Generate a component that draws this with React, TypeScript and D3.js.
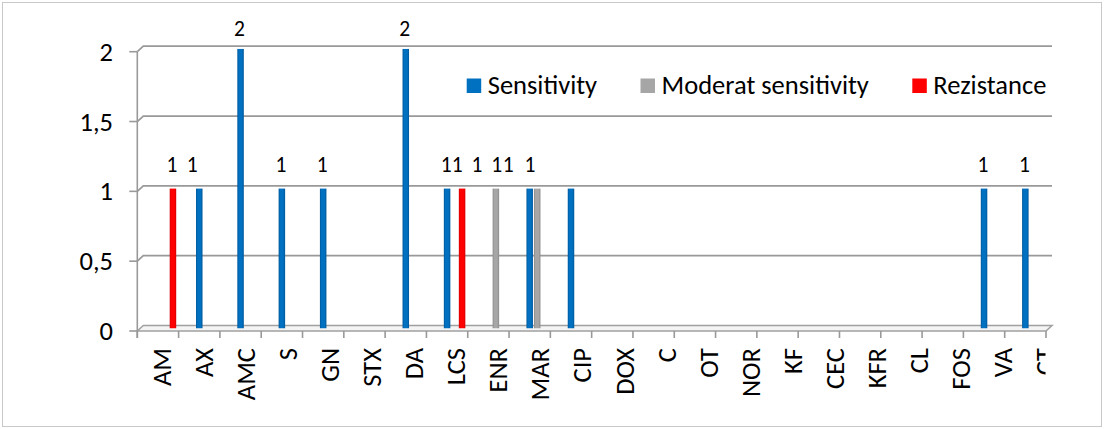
import React from "react";
import * as d3 from "d3";

// Antibiotic panel, one column per agent
const categories = [
  "AM", "AX", "AMC", "S", "GN", "STX", "DA", "LCS", "ENR", "MAR", "CIP",
  "DOX", "C", "OT", "NOR", "KF", "CEC", "KFR", "CL", "FOS", "VA", "CT",
];

const sensitivity = [0, 1, 2, 1, 1, 0, 2, 1, 0, 1, 1, 0, 0, 0, 0, 0, 0, 0, 0, 0, 1, 1];
const moderate = [0, 0, 0, 0, 0, 0, 0, 0, 1, 1, 0, 0, 0, 0, 0, 0, 0, 0, 0, 0, 0, 0];
const resistance = [1, 0, 0, 0, 0, 0, 0, 1, 0, 0, 0, 0, 0, 0, 0, 0, 0, 0, 0, 0, 0, 0];

const seriesNames = ["Sensitivity", "Moderat sensitivity", "Rezistance"];
const yTicks = [0, 0.5, 1, 1.5, 2];

const seriesValues: Record<string, number[]> = {
  Sensitivity: sensitivity,
  "Moderat sensitivity": moderate,
  Rezistance: resistance,
};

const colors: Record<string, { base: string; dark: string }> = {
  Sensitivity: { base: "#0070C0", dark: "#00579a" },
  "Moderat sensitivity": { base: "#A6A6A6", dark: "#8a8a8a" },
  Rezistance: { base: "#FF0000", dark: "#d40000" },
};

// hand-placed value labels that were dragged sideways in the workbook
const labelNudge: Record<string, number> = {
  "AX|Sensitivity": -6,
  "LCS|Rezistance": -4,
  "ENR|Moderat sensitivity": -18,
  "MAR|Sensitivity": -32,
  "MAR|Moderat sensitivity": -28,
  "CIP|Sensitivity": -40,
};

const W = 1104;
const H = 429;
const FONT = "Carlito, Lato, 'Open Sans', sans-serif";
const TEXT_SIZE = 26.5;
const LABEL_SIZE = 21.5;

// 3D offsets: back wall sits up and to the right of the front axis
const DEPTH_X = 6;
const DEPTH_Y = 5.5;

const commaFormat = d3.formatLocale({
  decimal: ",",
  thousands: ".",
  grouping: [3],
  currency: ["", ""],
}).format("~g");

export default function App() {
  const x = d3.scaleBand<string>().domain(categories).range([137.3, 1046]).padding(0);
  const yFront = d3.scaleLinear().domain([0, 2]).range([331, 51.7]);
  const yBack = (v: number) => yFront(v) - DEPTH_Y;
  const yBar = (v: number) => yFront(v) - DEPTH_Y / 2;
  const yLabel = d3.scaleLinear().domain([1, 2]).range([171.7, 35.5]);
  const inner = d3.scaleBand<string>().domain(seriesNames).range([-3.75, 18.75]);
  const xLabel = d3.scaleLinear().domain([0, categories.length - 1]).range([162, 1045]);

  const barW = 6.5;
  const x0 = x.range()[0];
  const x1 = x.range()[1];

  const bars: { key: string; cat: string; s: string; v: number; cx: number }[] = [];
  categories.forEach((c, i) => {
    seriesNames.forEach((s) => {
      const v = seriesValues[s][i];
      if (v > 0) {
        const cx = (x(c) as number) + x.bandwidth() / 2 + (inner(s) as number) + inner.bandwidth() / 2;
        bars.push({ key: `${c}|${s}`, cat: c, s, v, cx });
      }
    });
  });

  const legendX = [466.7, 640.5, 912.3];

  return (
    <svg
      width={W}
      height={H}
      style={{ position: "absolute", left: 0, top: 0, fontFamily: FONT }}
    >
      <defs>
        {seriesNames.map((s, i) => (
          <linearGradient key={s} id={`g${i}`} x1="0" x2="1" y1="0" y2="0">
            <stop offset="0" stopColor={colors[s].dark} />
            <stop offset="0.25" stopColor={colors[s].base} />
            <stop offset="0.7" stopColor={colors[s].base} />
            <stop offset="1" stopColor={colors[s].dark} />
          </linearGradient>
        ))}
        <clipPath id="labelClip">
          <rect x={0} y={0} width={1045.5} height={H} />
        </clipPath>
      </defs>

      <rect x={2.5} y={2.5} width={W - 5} height={H - 5} fill="#fff" stroke="#c8c8c8" strokeWidth={1} />

      {/* floor */}
      <path
        d={`M${x0},${yFront(0)} L${x0 + DEPTH_X},${yBack(0)} L${x1 + DEPTH_X},${yBack(0)} L${x1},${yFront(0)} Z`}
        fill="#f4f4f4"
        stroke="#a0a0a0"
        strokeWidth={1.5}
      />

      {/* back wall gridlines with their side-wall connectors */}
      {yTicks
        .filter((t) => t > 0)
        .map((t) => (
          <polyline
            key={t}
            points={`${x0},${yFront(t)} ${x0 + DEPTH_X},${yBack(t)} ${x1 + DEPTH_X},${yBack(t)}`}
            stroke="#999"
            strokeWidth={1.7}
            fill="none"
          />
        ))}

      {/* value axis */}
      <line x1={x0} x2={x0} y1={yFront(2)} y2={yFront(0) + 7} stroke="#999" strokeWidth={1.6} />
      {yTicks.map((t) => (
        <g key={t}>
          <line x1={x0 - 8} x2={x0} y1={yFront(t)} y2={yFront(t)} stroke="#999" strokeWidth={1.6} />
          <text
            x={113}
            y={yFront(t)}
            textAnchor="end"
            dominantBaseline="central"
            fontSize={TEXT_SIZE}
            fill="#000"
          >
            {commaFormat(t)}
          </text>
        </g>
      ))}

      {/* category ticks */}
      {categories.concat(["__end"]).map((c, i) => {
        const tx = x0 + i * x.bandwidth();
        return <line key={c} x1={tx} x2={tx} y1={yFront(0)} y2={yFront(0) + 7} stroke="#999" strokeWidth={1.6} />;
      })}

      {/* category labels */}
      <g clipPath="url(#labelClip)">
        {categories.map((c, i) => (
          <text
            key={c}
            transform={`translate(${xLabel(i)},348) rotate(-90)`}
            textAnchor="end"
            dominantBaseline="central"
            fontSize={TEXT_SIZE}
            fill="#000"
          >
            {c}
          </text>
        ))}
      </g>

      {/* columns */}
      {bars.map((b) => (
        <rect
          key={b.key}
          x={b.cx - barW / 2}
          y={yBar(b.v)}
          width={barW}
          height={yBar(0) - yBar(b.v)}
          fill={`url(#g${seriesNames.indexOf(b.s)})`}
        />
      ))}

      {/* value labels */}
      {bars.map((b) => (
        <text
          key={b.key}
          x={b.cx - 1 + (labelNudge[b.key] ?? 0)}
          y={yLabel(b.v)}
          textAnchor="middle"
          fontSize={LABEL_SIZE}
          fill="#000"
        >
          {b.v}
        </text>
      ))}

      {/* legend */}
      {seriesNames.map((s, i) => (
        <g key={s} transform={`translate(${legendX[i]},78.5)`}>
          <rect x={0} y={0} width={14.5} height={14.5} fill={colors[s].base} />
          <text x={21} y={15.8} fontSize={TEXT_SIZE} fill="#000">
            {s}
          </text>
        </g>
      ))}
    </svg>
  );
}
